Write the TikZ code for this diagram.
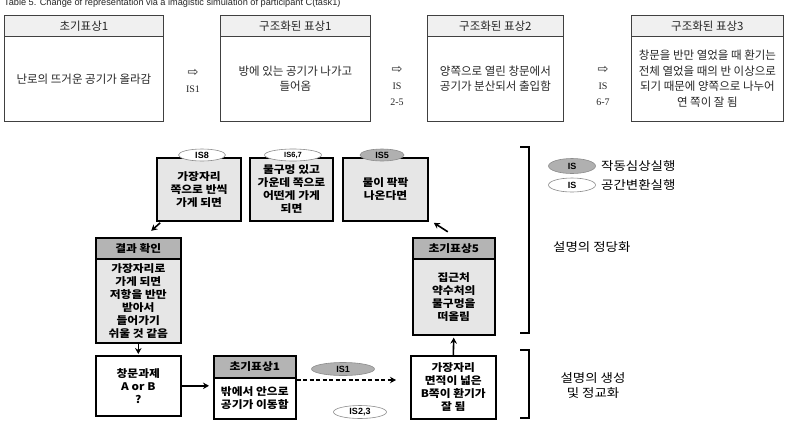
\documentclass[tikz,border=0pt]{standalone}
\usepackage{fontspec}
\setmainfont{Liberation Serif}
\newfontfamily\kr{Noto Sans CJK KR}
\newfontfamily\krw{Noto Sans CJK KR}[FakeStretch=1.12]
\newfontfamily\arial{Liberation Sans}
\newfontfamily\dv{DejaVu Sans}
\usetikzlibrary{shapes.geometric,arrows.meta,calc}
\definecolor{lightbox}{HTML}{E6E6E6}
\definecolor{darkhead}{HTML}{B4B4B4}
\definecolor{tophead}{HTML}{F0F0F0}
\definecolor{ellgray}{HTML}{B0B0B0}
\begin{document}
\begin{tikzpicture}[x=1pt,y=-1pt,
  topbox/.style={draw=black!75, line width=0.8pt, anchor=north west, inner sep=0pt, align=center, text=black!85, font=\kr\fontsize{11.5}{15.5}\selectfont},
  tophd/.style={topbox, fill=tophead, minimum height=21pt},
  topbd/.style={topbox, minimum height=85pt},
  isarrow/.style={align=center, inner sep=0pt, text=black!85, font=\fontsize{10}{16}\selectfont},
  gbox/.style={draw=black, line width=1.6pt, fill=lightbox, inner sep=0pt, align=center, font=\krw\bfseries\fontsize{10.5}{13}\selectfont},
  wbox/.style={gbox, fill=white},
  dhead/.style={gbox, fill=darkhead},
  ell/.style={ellipse, draw=black!45, line width=0.6pt, fill=white, inner sep=0pt, font=\arial\bfseries\fontsize{9}{10}\selectfont},
  gell/.style={ell, fill=ellgray},
  arr/.style={-{Stealth[length=6pt,width=6.5pt]}, line width=1.6pt},
  legtext/.style={anchor=west, inner sep=0pt, font=\krw\fontsize{12}{15}\selectfont}
]
\fill[white] (0,0) rectangle (789,424);
\useasboundingbox (0,0) rectangle (789,424);

% title
\node[anchor=base west, inner sep=0pt, text=black!85, font=\arial\fontsize{9.2}{10}\selectfont] (title) at (4,5) {Table 5. Change of representation via a imagistic simulation of participant C(task1)};

% top row
\node[tophd, minimum width=159pt] (h1) at (4,15) {초기표상1};
\node[topbd, minimum width=159pt] (b1) at (4,36) {난로의 뜨거운 공기가 올라감};
\node[tophd, minimum width=150pt] (h2) at (220,15) {구조화된 표상1};
\node[topbd, minimum width=150pt] (b2) at (220,36) {방에 있는 공기가 나가고\\들어옴};
\node[tophd, minimum width=136pt] (h3) at (427,15) {구조화된 표상2};
\node[topbd, minimum width=136pt] (b3) at (427,36) {양쪽으로 열린 창문에서\\공기가 분산되서 출입함};
\node[tophd, minimum width=152pt] (h4) at (631,15) {구조화된 표상3};
\node[topbd, minimum width=152pt] (b4) at (631,36) {창문을 반만 열었을 때 환기는\\전체 열었을 때의 반 이상으로\\되기 때문에 양쪽으로 나누어\\연 쪽이 잘 됨};

\node[isarrow] (a1) at (193,81) {{\dv\fontsize{13}{16}\selectfont ⇨}\\IS1};
\node[isarrow] (a2) at (397,86) {{\dv\fontsize{13}{16}\selectfont ⇨}\\IS\\2-5};
\node[isarrow] (a3) at (603,86) {{\dv\fontsize{13}{16}\selectfont ⇨}\\IS\\6-7};

% bottom: upper row of gray boxes
\node[gbox, minimum width=84pt, minimum height=63pt] (s8) at (199,189.5) {가장자리\\쪽으로 반씩\\가게 되면};
\node[gbox, minimum width=83pt, minimum height=63pt] (s67) at (291.5,189.5) {물구멍 있고\\가운데 쪽으로\\어떤게 가게\\되면};
\node[gbox, minimum width=85pt, minimum height=63pt] (s5) at (385.5,189.5) {물이 팍팍\\나온다면};
\node[ell, minimum width=47pt, minimum height=12pt] (e8) at (202,155) {IS8};
\node[ell, minimum width=57pt, minimum height=12pt, font=\arial\bfseries\fontsize{7.5}{8}\selectfont] (e67) at (293,155) {IS6,7};
\node[gell, minimum width=44pt, minimum height=12pt] (e5) at (382,155) {IS5};

% left column
\node[dhead, anchor=north west, minimum width=85pt, minimum height=21pt] (rh) at (95,237) {결과 확인};
\node[gbox, anchor=north west, minimum width=85pt, minimum height=84pt] (rb) at (95,258) {가장자리로\\가게 되면\\저항을 반만\\받아서\\들어가기\\쉬울 것 같음};
\node[wbox, anchor=north west, minimum width=85pt, minimum height=60pt] (q) at (95,355) {창문과제\\A or B\\?};

% bottom middle
\node[dhead, anchor=north west, minimum width=82pt, minimum height=22pt] (ih) at (213,355) {초기표상1};
\node[wbox, anchor=north west, minimum width=82pt, minimum height=41pt] (ib) at (213,377) {밖에서 안으로\\공기가 이동함};
\node[gell, minimum width=63pt, minimum height=13pt] (e1) at (343,369) {IS1};
\node[ell, minimum width=53pt, minimum height=13pt] (e23) at (360,412) {IS2,3};

% right column
\node[wbox, anchor=north west, minimum width=85pt, minimum height=63pt] (g) at (410,355) {가장자리\\면적이 넓은\\B쪽이 환기가\\잘 됨};
\node[dhead, anchor=north west, minimum width=82pt, minimum height=21pt] (h5) at (412,237) {초기표상5};
\node[gbox, anchor=north west, minimum width=82pt, minimum height=76pt] (b5) at (412,258) {집근처\\약수처의\\물구멍을\\떠올림};

% connectors
\draw[arr, shorten >=1pt] (rb.south) -- (q.north);
\draw[arr, shorten >=4pt] (q.east) -- (q.east -| ib.west);
\draw[arr, dash pattern=on 4pt off 2.5pt, shorten >=14pt] ($(ib.north east)+(0,3)$) -- ($(g.west |- ib.north)+(0,3)$);
\draw[arr, shorten >=2pt] (g.north) -- (b5.south);
\draw[arr] ($(s5.south east)+(19,10)$) -- ($(s5.south east)+(5,1)$);
\draw[arr] ($(s8.south west)+(4,1)$) -- ($(s8.south west)+(-5,9)$);

% brackets
\draw[line width=1.5pt] (520,147) -- (529,147) -- (529,333) -- (520,333);
\draw[line width=1.5pt] (520,350) -- (529,350) -- (529,418) -- (520,418);

% legend
\node[gell, minimum width=47pt, minimum height=15pt] (le1) at (572,166) {IS};
\node[legtext] (lt1) at (601,166) {작동심상실행};
\node[ell, minimum width=47pt, minimum height=14pt] (le2) at (572,185) {IS};
\node[legtext] (lt2) at (601,185) {공간변환실행};
\node[legtext] (just) at (553,247) {설명의 정당화};
\node[align=center, inner sep=0pt, font=\krw\fontsize{12}{15}\selectfont] (gen) at (593,385) {설명의 생성\\및 정교화};
\end{tikzpicture}
\end{document}
